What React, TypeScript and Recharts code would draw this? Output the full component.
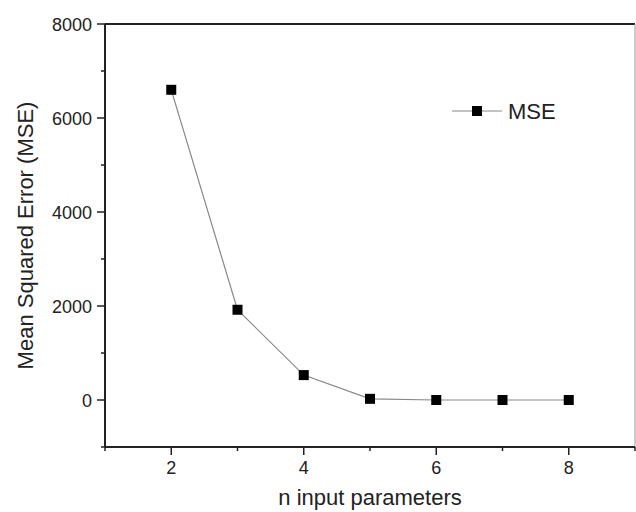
import { LineChart, Line, XAxis, YAxis, ReferenceLine, Legend, Label } from 'recharts'

const FONT = '"Liberation Sans", Arial, sans-serif'

// n input parameters -> MSE
const nParams = [2, 3, 4, 5, 6, 7, 8]
const mseValues = [6600, 1920, 530, 25, 0, 0, 0]
const xTicks = [1, 2, 3, 4, 5, 6, 7, 8, 9]
const yTicks = [-1000, 0, 1000, 2000, 3000, 4000, 5000, 6000, 7000, 8000]

const data = nParams.map((n, i) => ({ n, mse: mseValues[i] }))

const YTick = (props: any) => {
  const { x, y, payload } = props
  const v = payload.value
  const major = v >= 0 && v % 2000 === 0
  return (
    <g>
      <line x1={x} x2={x - (major ? 8 : 4)} y1={y} y2={y} stroke="#222" strokeWidth={1.5} />
      {major && (
        <text x={x - 13} y={y + 6.5} textAnchor="end" fontSize={18} fill="#222" fontFamily={FONT}>
          {v}
        </text>
      )}
    </g>
  )
}

const XTick = (props: any) => {
  const { x, y, payload } = props
  const v = payload.value
  const major = v % 2 === 0
  return (
    <g>
      <line x1={x} x2={x} y1={y} y2={y + (major ? 8 : 4)} stroke="#222" strokeWidth={1.5} />
      {major && (
        <text x={x} y={y + 27} textAnchor="middle" fontSize={18} fill="#222" fontFamily={FONT}>
          {v}
        </text>
      )}
    </g>
  )
}

const Square = (props: any) => {
  const { cx, cy, index } = props
  return <rect key={index} x={cx - 5} y={cy - 5} width={10} height={10} fill="#000" />
}

const LegendBox = () => (
  <svg width={120} height={26}>
    <line x1={0} x2={50} y1={13} y2={13} stroke="#888" strokeWidth={1.2} />
    <rect x={20} y={8} width={10} height={10} fill="#000" />
    <text x={56} y={21} fontSize={22} fill="#222" fontFamily={FONT}>MSE</text>
  </svg>
)

export default function App() {
  return (
    <div style={{ position: 'absolute', left: 0, top: 0, background: '#fff' }}>
      <LineChart width={636} height={512} data={data} margin={{ top: 24, right: 1, left: 0, bottom: 0 }}>
        <XAxis
          dataKey="n"
          type="number"
          domain={[1, 9]}
          ticks={xTicks}
          interval={0}
          tickSize={0}
          tickMargin={0}
          height={65}
          tick={<XTick />}
          axisLine={{ stroke: '#222', strokeWidth: 2 }}
        >
          <Label
            content={({ viewBox }: any) => (
              <text
                x={viewBox.x + viewBox.width / 2}
                y={505}
                textAnchor="middle"
                fontSize={22}
                fill="#222"
                fontFamily={FONT}
              >
                n input parameters
              </text>
            )}
          />
        </XAxis>
        <YAxis
          type="number"
          domain={[-1000, 8000]}
          ticks={yTicks}
          interval={0}
          tickSize={0}
          tickMargin={0}
          width={105}
          tick={<YTick />}
          axisLine={{ stroke: '#222', strokeWidth: 2 }}
        >
          <Label
            content={({ viewBox }: any) => {
              const cy = viewBox.y + viewBox.height / 2
              return (
                <text
                  x={33}
                  y={cy}
                  transform={`rotate(-90, 33, ${cy})`}
                  textAnchor="middle"
                  fontSize={22}
                  fill="#222"
                  fontFamily={FONT}
                >
                  Mean Squared Error (MSE)
                </text>
              )
            }}
          />
        </YAxis>
        <ReferenceLine y={8000} stroke="#222" strokeWidth={2} />
        <ReferenceLine x={9} stroke="#999" strokeWidth={1} />
        <Legend
          layout="horizontal"
          verticalAlign="middle"
          align="center"
          content={() => <LegendBox />}
          wrapperStyle={{ position: 'absolute', left: 452, top: 98, width: 120, height: 26 }}
        />
        <Line
          type="linear"
          dataKey="mse"
          stroke="#888"
          strokeWidth={1.2}
          dot={<Square />}
          activeDot={false}
          isAnimationActive={false}
        />
      </LineChart>
    </div>
  )
}
